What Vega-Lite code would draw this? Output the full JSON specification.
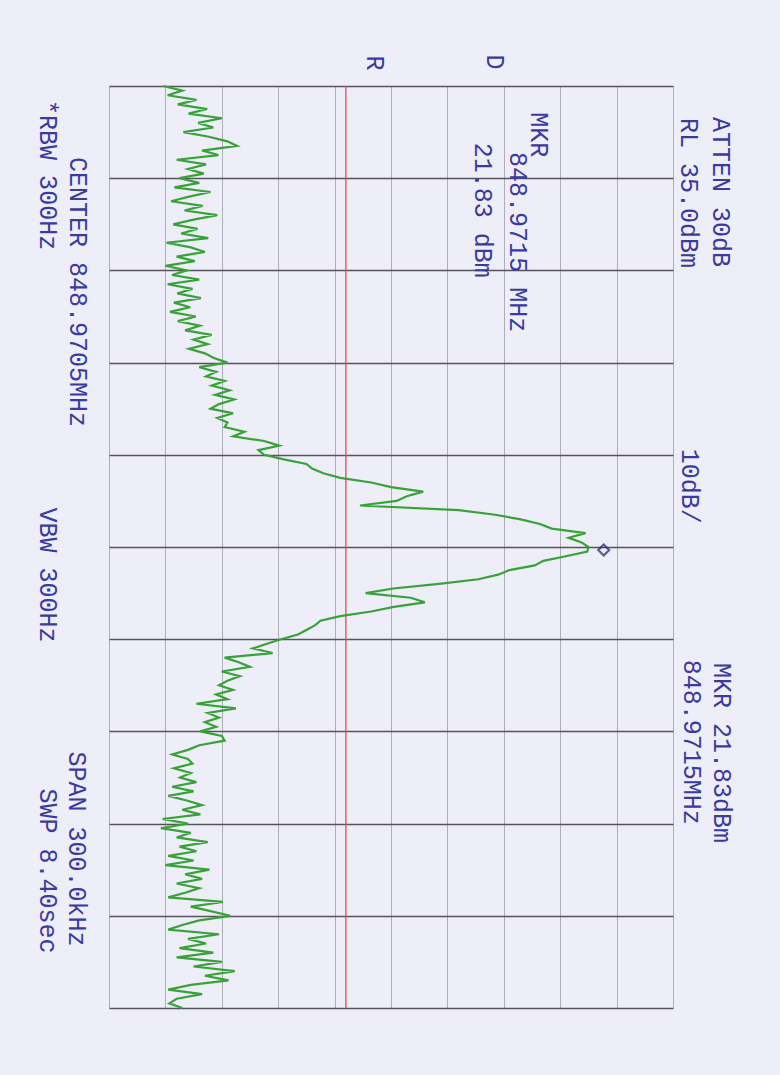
{
  "$schema": "https://vega.github.io/schema/vega-lite/v6.json",
  "width": 564,
  "height": 922,
  "autosize": {"type": "none"},
  "padding": {"left": 109, "top": 86, "right": 107, "bottom": 67},
  "background": "#eeeef8",
  "config": {"view": {"stroke": null}},
  "datasets": {
    "trace": [
      {"f":848.8205,"p":-55.4},{"f":848.822,"p":-52.0},{"f":848.8235,"p":-54.6},{"f":848.825,"p":-49.5},{"f":848.8265,"p":-52.8},
      {"f":848.828,"p":-47.6},{"f":848.8295,"p":-50.9},{"f":848.831,"p":-45.0},{"f":848.8325,"p":-49.2},{"f":848.834,"p":-46.5},
      {"f":848.8355,"p":-51.8},{"f":848.837,"p":-47.3},{"f":848.8385,"p":-44.0},{"f":848.84,"p":-42.3},{"f":848.8415,"p":-48.5},
      {"f":848.843,"p":-45.6},{"f":848.8445,"p":-53.0},{"f":848.846,"p":-47.8},{"f":848.8475,"p":-51.0},{"f":848.849,"p":-48.2},
      {"f":848.8505,"p":-52.5},{"f":848.852,"p":-49.0},{"f":848.8535,"p":-53.4},{"f":848.855,"p":-47.0},{"f":848.8565,"p":-50.8},
      {"f":848.858,"p":-54.0},{"f":848.8595,"p":-48.4},{"f":848.861,"p":-51.6},{"f":848.8625,"p":-45.8},{"f":848.864,"p":-50.0},
      {"f":848.8655,"p":-53.6},{"f":848.867,"p":-49.3},{"f":848.8685,"p":-52.2},{"f":848.87,"p":-47.4},{"f":848.8715,"p":-54.8},
      {"f":848.873,"p":-50.5},{"f":848.8745,"p":-48.0},{"f":848.876,"p":-53.0},{"f":848.8775,"p":-49.8},{"f":848.879,"p":-55.0},
      {"f":848.8805,"p":-51.2},{"f":848.882,"p":-53.8},{"f":848.8835,"p":-49.0},{"f":848.885,"p":-54.6},{"f":848.8865,"p":-50.2},
      {"f":848.888,"p":-52.9},{"f":848.8895,"p":-48.7},{"f":848.891,"p":-53.5},{"f":848.8925,"p":-50.6},{"f":848.894,"p":-54.2},
      {"f":848.8955,"p":-49.6},{"f":848.897,"p":-52.8},{"f":848.8985,"p":-48.9},{"f":848.9,"p":-51.5},{"f":848.9015,"p":-46.8},
      {"f":848.903,"p":-50.0},{"f":848.9045,"p":-47.5},{"f":848.906,"p":-50.8},{"f":848.9075,"p":-48.0},{"f":848.909,"p":-46.4},
      {"f":848.9105,"p":-44.0},{"f":848.912,"p":-49.0},{"f":848.9135,"p":-46.0},{"f":848.915,"p":-47.8},{"f":848.9165,"p":-44.5},
      {"f":848.918,"p":-46.8},{"f":848.9195,"p":-43.6},{"f":848.921,"p":-46.2},{"f":848.9225,"p":-42.8},{"f":848.924,"p":-45.5},
      {"f":848.9255,"p":-47.0},{"f":848.927,"p":-43.0},{"f":848.9285,"p":-45.8},{"f":848.93,"p":-44.0},{"f":848.9315,"p":-44.5},
      {"f":848.933,"p":-41.0},{"f":848.9345,"p":-43.0},{"f":848.936,"p":-37.5},{"f":848.9375,"p":-34.8},{"f":848.939,"p":-38.5},
      {"f":848.9405,"p":-37.5},{"f":848.942,"p":-34.0},{"f":848.9435,"p":-30.0},{"f":848.945,"p":-29.0},{"f":848.9465,"p":-27.0},
      {"f":848.948,"p":-24.0},{"f":848.9495,"p":-18.5},{"f":848.951,"p":-15.0},{"f":848.9525,"p":-9.3},{"f":848.954,"p":-12.2},
      {"f":848.9555,"p":-14.0},{"f":848.957,"p":-20.5},{"f":848.9585,"p":-3.0},{"f":848.96,"p":3.5},{"f":848.9615,"p":8.0},
      {"f":848.963,"p":11.4},{"f":848.9645,"p":13.5},{"f":848.966,"p":19.5},{"f":848.9675,"p":16.5},{"f":848.969,"p":18.8},
      {"f":848.9705,"p":20.0},{"f":848.972,"p":19.8},{"f":848.9735,"p":16.0},{"f":848.975,"p":12.0},{"f":848.9765,"p":10.5},
      {"f":848.978,"p":6.0},{"f":848.9795,"p":4.0},{"f":848.981,"p":0.5},{"f":848.9825,"p":-6.5},{"f":848.984,"p":-14.6},
      {"f":848.9855,"p":-19.5},{"f":848.987,"p":-11.5},{"f":848.9885,"p":-9.0},{"f":848.99,"p":-14.5},{"f":848.9915,"p":-18.5},
      {"f":848.993,"p":-24.0},{"f":848.9945,"p":-27.5},{"f":848.996,"p":-28.5},{"f":848.9975,"p":-30.0},{"f":848.999,"p":-31.5},
      {"f":849.0005,"p":-34.5},{"f":849.002,"p":-37.0},{"f":849.0035,"p":-39.5},{"f":849.005,"p":-36.0},{"f":849.0065,"p":-44.5},
      {"f":849.008,"p":-42.0},{"f":849.0095,"p":-40.0},{"f":849.011,"p":-45.0},{"f":849.0125,"p":-41.8},{"f":849.014,"p":-44.0},
      {"f":849.0155,"p":-45.5},{"f":849.017,"p":-43.0},{"f":849.0185,"p":-46.0},{"f":849.02,"p":-44.0},{"f":849.0215,"p":-49.5},
      {"f":849.023,"p":-42.5},{"f":849.0245,"p":-47.5},{"f":849.026,"p":-45.5},{"f":849.0275,"p":-48.0},{"f":849.029,"p":-46.0},
      {"f":849.0305,"p":-48.8},{"f":849.032,"p":-45.0},{"f":849.0335,"p":-44.5},{"f":849.035,"p":-49.0},{"f":849.0365,"p":-51.0},
      {"f":849.038,"p":-53.8},{"f":849.0395,"p":-51.0},{"f":849.041,"p":-50.2},{"f":849.0425,"p":-53.5},{"f":849.044,"p":-50.5},
      {"f":849.0455,"p":-52.4},{"f":849.047,"p":-49.5},{"f":849.0485,"p":-53.8},{"f":849.05,"p":-50.0},{"f":849.0515,"p":-54.5},
      {"f":849.053,"p":-51.2},{"f":849.0545,"p":-48.5},{"f":849.056,"p":-52.0},{"f":849.0575,"p":-48.8},{"f":849.059,"p":-55.5},
      {"f":849.0605,"p":-51.0},{"f":849.062,"p":-55.8},{"f":849.0635,"p":-50.5},{"f":849.065,"p":-53.0},{"f":849.0665,"p":-47.5},
      {"f":849.068,"p":-52.5},{"f":849.0695,"p":-49.5},{"f":849.071,"p":-54.5},{"f":849.0725,"p":-50.0},{"f":849.074,"p":-55.0},
      {"f":849.0755,"p":-47.2},{"f":849.077,"p":-51.5},{"f":849.0785,"p":-48.5},{"f":849.08,"p":-53.0},{"f":849.0815,"p":-49.0},
      {"f":849.083,"p":-51.5},{"f":849.0845,"p":-54.5},{"f":849.086,"p":-44.8},{"f":849.0875,"p":-50.5},{"f":849.089,"p":-47.0},
      {"f":849.0905,"p":-43.5},{"f":849.092,"p":-49.0},{"f":849.0935,"p":-52.0},{"f":849.095,"p":-54.5},{"f":849.0965,"p":-45.5},
      {"f":849.098,"p":-51.0},{"f":849.0995,"p":-47.8},{"f":849.101,"p":-52.5},{"f":849.1025,"p":-46.5},{"f":849.104,"p":-53.0},
      {"f":849.1055,"p":-45.0},{"f":849.107,"p":-50.0},{"f":849.1085,"p":-42.7},{"f":849.11,"p":-48.0},{"f":849.1115,"p":-43.8},
      {"f":849.113,"p":-50.5},{"f":849.1145,"p":-54.5},{"f":849.116,"p":-48.5},{"f":849.1175,"p":-53.0},{"f":849.119,"p":-54.3},
      {"f":849.1205,"p":-52.0}
    ],
    "labels": [
      {"t":"ATTEN 30dB","p":43.5,"f":848.8550},
      {"t":"RL 35.0dBm","p":37.8,"f":848.8553},
      {"t":"10dB/","p":38.0,"f":848.9507},
      {"t":"MKR 21.83dBm","p":43.7,"f":849.0375},
      {"t":"848.9715MHz","p":38.4,"f":849.0340},
      {"t":"MKR","p":11.2,"f":848.8364},
      {"t":"848.9715 MHz","p":7.5,"f":848.8713},
      {"t":"21.83 dBm","p":1.3,"f":848.8609},
      {"t":"R","p":-17.8,"f":848.8130},
      {"t":"D","p":3.4,"f":848.8127},
      {"t":"CENTER 848.9705MHz","p":-70.5,"f":848.8875},
      {"t":"*RBW 300Hz","p":-75.8,"f":848.8495},
      {"t":"VBW 300Hz","p":-75.8,"f":848.9796},
      {"t":"SPAN 300.0kHz","p":-70.7,"f":849.0688},
      {"t":"SWP 8.40sec","p":-75.8,"f":849.0759}
    ]
  },
  "encoding": {
    "x": {"field": "p", "type": "quantitative",
      "scale": {"domain": [-65, 35], "nice": false, "zero": false},
      "axis": {"values": [-65,-55,-45,-35,-25,-15,-5,5,15,25,35], "grid": true, "gridColor": "#aeaeba", "gridWidth": 1, "labels": false, "ticks": false, "domain": false, "title": null}},
    "y": {"field": "f", "type": "quantitative",
      "scale": {"domain": [848.8205, 849.1205], "nice": false, "zero": false, "reverse": true},
      "axis": {"values": [848.8205,848.8505,848.8805,848.9105,848.9405,848.9705,849.0005,849.0305,849.0605,849.0905,849.1205], "grid": true, "gridColor": "#57525e", "gridWidth": 1.5, "labels": false, "ticks": false, "domain": false, "title": null}}
  },
  "layer": [
    {
      "data": {"values": [{"level": -23}]},
      "mark": {"type": "rule", "color": "#e04c5a", "strokeWidth": 1.3},
      "encoding": {
        "x": {"field": "level", "type": "quantitative"},
        "y": {"value": 0},
        "y2": {"value": 922}
      }
    },
    {
      "data": {"name": "trace"},
      "mark": {"type": "line", "color": "#38a238", "strokeWidth": 2.2},
      "encoding": {
        "order": {"field": "f", "type": "quantitative"}
      }
    },
    {
      "data": {"values": [{"f": 848.9715, "p": 21.83}]},
      "mark": {"type": "point", "shape": "diamond", "filled": false, "stroke": "#1c1c6e", "strokeWidth": 2.2, "size": 120, "xOffset": 5}
    },
    {
      "data": {"name": "labels"},
      "mark": {"type": "text", "angle": 90, "align": "center", "baseline": "middle", "font": "Liberation Mono", "fontSize": 25, "fill": "#3a3aa0"},
      "encoding": {
        "text": {"field": "t", "type": "nominal"}
      }
    }
  ]
}
